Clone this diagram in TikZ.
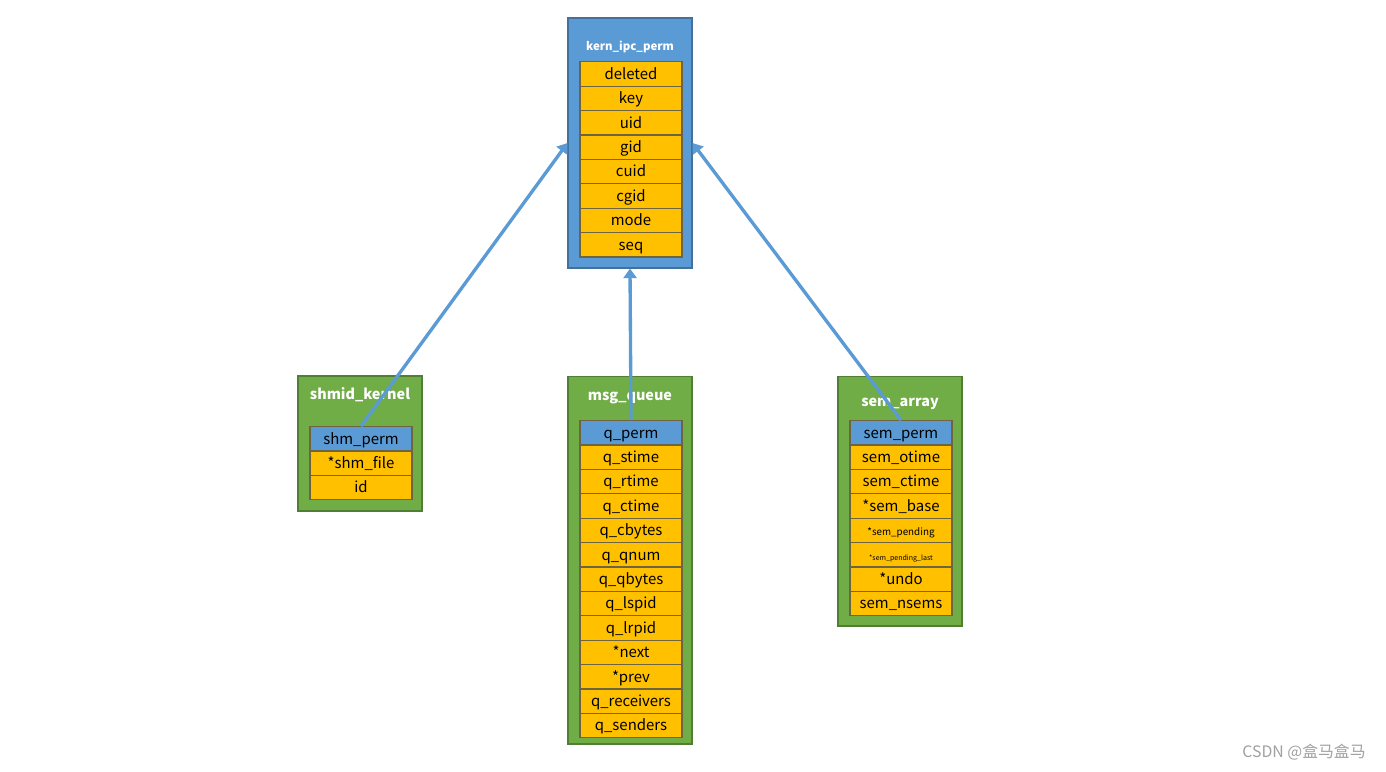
\documentclass[tikz,border=0pt]{standalone}
\usepackage{fontspec}
\setmainfont{Noto Sans CJK SC}
\usetikzlibrary{arrows.meta}

\definecolor{hdrblue}{HTML}{5B9BD5}
\definecolor{hdrblueline}{HTML}{41719C}
\definecolor{boxgreen}{HTML}{70AD47}
\definecolor{boxgreenline}{HTML}{507E32}
\definecolor{fieldyellow}{HTML}{FFC000}
\definecolor{fieldline}{HTML}{6E6440}
\definecolor{markgray}{HTML}{A0A0A0}

\begin{document}
\begin{tikzpicture}[x=0.02cm, y=-0.02cm,
    bluebox/.style={draw=hdrblueline, fill=hdrblue, line width=0.6pt, minimum width=2.48cm},
    greenbox/.style={draw=boxgreenline, fill=boxgreen, line width=0.6pt, minimum width=2.48cm},
    title/.style={text=white, font=\fontsize{8.2}{9}\selectfont\bfseries},
    field/.style={draw=fieldline, fill=fieldyellow, line width=0.6pt, minimum width=2.04cm,
        minimum height=0.488cm, inner sep=0pt, text height=1.55ex, text depth=0.45ex,
        font=\fontsize{8.5}{9}\selectfont},
    permfield/.style={field, fill=hdrblue},
    link/.style={draw=hdrblue, line width=1.9pt, -{Triangle[length=5.5pt,width=7.5pt]}}]
    \useasboundingbox (0,0) rectangle (1386,771);

    % kern_ipc_perm
    \node[bluebox, minimum height=5cm] (kern) at (630,143) {};
    \node[title, font=\fontsize{6.5}{8}\selectfont\bfseries] (kerntitle) at (630,47) {kern\_ipc\_perm};
    \foreach \f [count=\i] in {deleted,key,uid,gid,cuid,cgid,mode,seq} {
        \node[field] (k\i) at (631,{61.8+24.4*(\i-0.5)}) {\f};
    }

    % shmid_kernel
    \node[greenbox, minimum height=2.7cm] (shm) at (360,443.5) {};
    \node[title] (shmtitle) at (360,395) {shmid\_kernel};
    \node[permfield] (s1) at (361,{426.6+24.4*0.5}) {shm\_perm};
    \foreach \f [count=\i from 2] in {*shm\_file,id} {
        \node[field] (s\i) at (361,{426.6+24.4*(\i-0.5)}) {\f};
    }

    % msg_queue
    \node[greenbox, minimum height=7.36cm] (msg) at (630,560) {};
    \node[title] (msgtitle) at (630,398) {msg\_queue};
    \node[permfield] (q1) at (631,{420.6+24.4*0.5}) {q\_perm};
    \foreach \f [count=\i from 2] in {q\_stime,q\_rtime,q\_ctime,q\_cbytes,q\_qnum,q\_qbytes,
        q\_lspid,q\_lrpid,*next,*prev,q\_receivers,q\_senders} {
        \node[field] (q\i) at (631,{420.6+24.4*(\i-0.5)}) {\f};
    }

    % sem_array
    \node[greenbox, minimum height=5cm] (sem) at (900,501) {};
    \node[title] (semtitle) at (900,404) {sem\_array};
    \node[permfield] (a1) at (901,{420.6+24.4*0.5}) {sem\_perm};
    \foreach \f/\fs [count=\i from 2] in {sem\_otime/8.5,sem\_ctime/8.5,*sem\_base/8.5,
        *sem\_pending/5.6,*sem\_pending\_last/4,*undo/8.5,sem\_nsems/8.5} {
        \node[field, font=\fontsize{\fs}{\fs}\selectfont] (a\i) at (901,{420.6+24.4*(\i-0.5)}) {\f};
    }

    % links to kern_ipc_perm
    \draw[link] (s1.north) -- (kern.west);
    \draw[link] (q1.north) -- (kern.south);
    \draw[link] (a1.north) -- (kern.east);

    \node[text=markgray, font=\fontsize{9}{10}\selectfont] (mark) at (1304,752) {CSDN @盒马盒马};
\end{tikzpicture}
\end{document}
